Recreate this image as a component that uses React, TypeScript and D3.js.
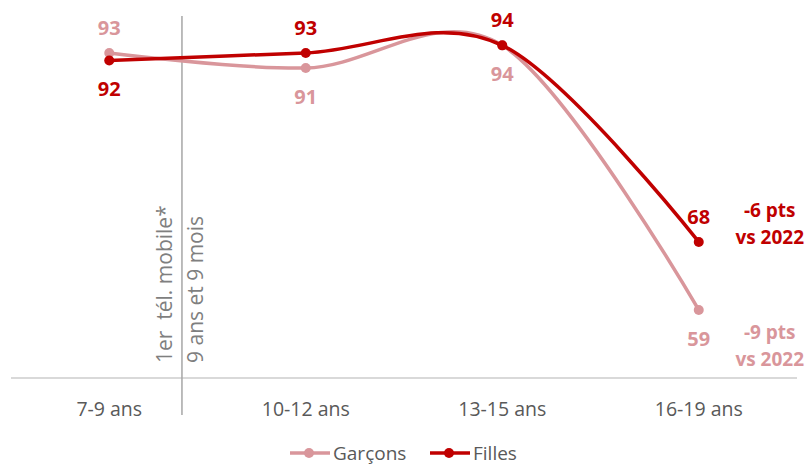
import React, { useEffect, useRef } from "react";
import * as d3 from "d3";

const categories = ["7-9 ans", "10-12 ans", "13-15 ans", "16-19 ans"];
const garcons = [93, 91, 94, 59];
const filles = [92, 93, 94, 68];
// where each data label goes relative to its point
const garconsLabelSide = ["above", "below", "below", "below"];
const fillesLabelSide = ["below", "above", "above", "above"];
const fillesNote = ["-6 pts", "vs 2022"];
const garconsNote = ["-9 pts", "vs 2022"];
const markerLines = ["1er  tél. mobile*", "9 ans et 9 mois"];
const seriesNames = ["Garçons", "Filles"];

const W = 810;
const H = 465;
const PINK = "#D9969B";
const RED = "#C00000";
const FONT = "'Open Sans', sans-serif";

const App = () => {
  const ref = useRef<SVGSVGElement>(null);

  useEffect(() => {
    const svg = d3.select(ref.current);
    svg.selectAll("*").remove();

    const x = d3.scaleBand().domain(categories).range([11, 797]);
    const cx = (c: string) => (x(c) as number) + x.bandwidth() / 2;
    const y = d3.scaleLinear().domain([50, 100]).range([378, 0]);

    // baseline
    svg
      .append("line")
      .attr("x1", 11)
      .attr("x2", 797)
      .attr("y1", y(50))
      .attr("y2", y(50))
      .attr("stroke", "#D9D9D9")
      .attr("stroke-width", 2);

    // category labels
    svg
      .selectAll("text.tick")
      .data(categories)
      .join("text")
      .attr("class", "tick")
      .attr("x", (d) => cx(d))
      .attr("y", 416)
      .attr("text-anchor", "middle")
      .attr("font-family", FONT)
      .attr("font-size", 19.5)
      .attr("fill", "#595959")
      .text((d) => d);

    // first mobile phone marker
    const mx = (x(categories[0]) as number) + x.bandwidth() * 0.87;
    svg
      .append("line")
      .attr("x1", mx)
      .attr("x2", mx)
      .attr("y1", 16)
      .attr("y2", 415)
      .attr("stroke", "#A6A6A6")
      .attr("stroke-width", 1.5);

    markerLines.forEach((t, i) => {
      const tx = i === 0 ? mx - 18 : mx + 13;
      svg
        .append("text")
        .attr("transform", `translate(${tx},363) rotate(-90)`)
        .attr("dominant-baseline", "central")
        .attr("font-family", FONT)
        .attr("font-size", 21)
        .attr("fill", "#7F7F7F")
        .style("white-space", "pre")
        .text(t);
    });

    const line = d3
      .line<number>()
      .x((_, i) => cx(categories[i]))
      .y((d) => y(d))
      .curve(d3.curveCardinal.tension(0));

    const drawSeries = (vals: number[], color: string, sides: string[]) => {
      svg
        .append("path")
        .attr("d", line(vals))
        .attr("fill", "none")
        .attr("stroke", color)
        .attr("stroke-width", 3.5);

      svg
        .append("g")
        .selectAll("circle")
        .data(vals)
        .join("circle")
        .attr("cx", (_, i) => cx(categories[i]))
        .attr("cy", (d) => y(d))
        .attr("r", 5)
        .attr("fill", color);

      svg
        .append("g")
        .selectAll("text")
        .data(vals)
        .join("text")
        .attr("x", (_, i) => cx(categories[i]))
        .attr("y", (d, i) => y(d) + (sides[i] === "above" ? -18 : 36))
        .attr("text-anchor", "middle")
        .attr("font-family", FONT)
        .attr("font-weight", "bold")
        .attr("font-size", 20)
        .attr("fill", color)
        .text((d) => d);
    };

    drawSeries(garcons, PINK, garconsLabelSide);
    drawSeries(filles, RED, fillesLabelSide);

    // change vs 2022 notes
    const lastX = cx(categories[categories.length - 1]) + 71;
    const note = (lines: string[], color: string, y0: number) => {
      lines.forEach((t, i) => {
        svg
          .append("text")
          .attr("x", lastX)
          .attr("y", y0 + i * 27)
          .attr("text-anchor", "middle")
          .attr("font-family", FONT)
          .attr("font-weight", "bold")
          .attr("font-size", 19)
          .attr("fill", color)
          .text(t);
      });
    };
    note(fillesNote, RED, y(filles[3]) - 25);
    note(garconsNote, PINK, y(garcons[3]) + 29);

    // legend
    const legend = svg
      .selectAll("g.legend")
      .data(seriesNames)
      .join("g")
      .attr("class", "legend")
      .attr("transform", (_, i) => `translate(${290 + i * 140},453)`);
    legend
      .append("line")
      .attr("x1", 0)
      .attr("x2", 40)
      .attr("stroke", (_, i) => (i === 0 ? PINK : RED))
      .attr("stroke-width", 3.5);
    legend
      .append("circle")
      .attr("cx", 19)
      .attr("r", 5)
      .attr("fill", (_, i) => (i === 0 ? PINK : RED));
    legend
      .append("text")
      .attr("x", 43)
      .attr("y", 7)
      .attr("font-family", FONT)
      .attr("font-size", 19)
      .attr("fill", "#595959")
      .text((d) => d);
  }, []);

  return (
    <svg
      ref={ref}
      width={W}
      height={H}
      style={{ position: "absolute", left: 0, top: 0, background: "#fff" }}
    />
  );
};

export default App;
